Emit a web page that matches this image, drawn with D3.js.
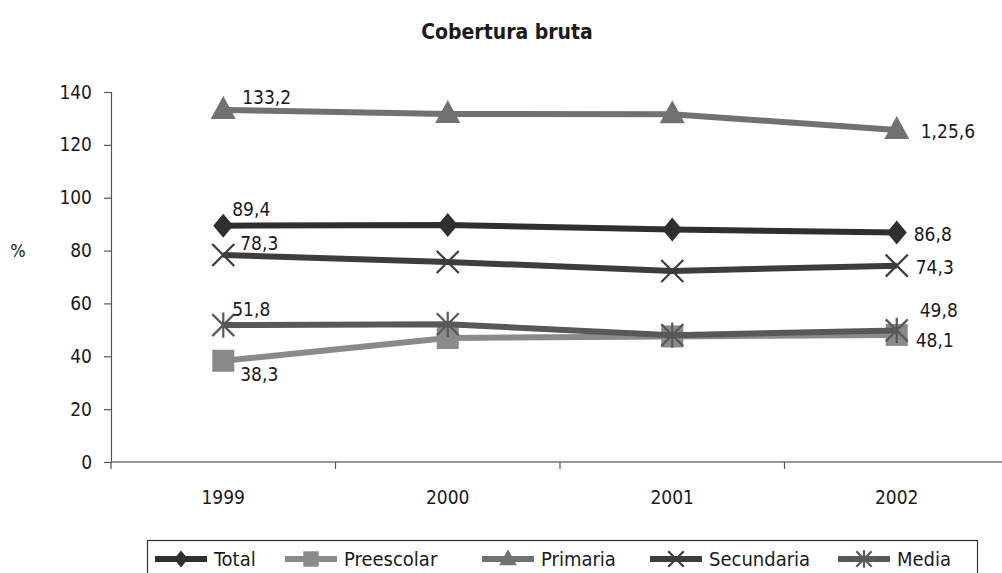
<!DOCTYPE html>
<html>
<head>
<meta charset="utf-8">
<script src="https://cdn.jsdelivr.net/npm/d3@7"></script>
<style>
  body { margin: 0; background: #fff; }
  svg { display: block; font-family: "Liberation Sans Narrow", "DejaVu Sans Condensed", "Roboto Condensed", sans-serif; }
</style>
</head>
<body>
<svg id="chart" width="1002" height="573"></svg>
<script>
// Data
const years = ["1999", "2000", "2001", "2002"];
const yTicks = [0, 20, 40, 60, 80, 100, 120, 140];
const seriesNames = ["Total", "Preescolar", "Primaria", "Secundaria", "Media"];
const total = [89.4, 89.7, 88.0, 86.8];
const preescolar = [38.3, 46.9, 47.5, 48.1];
const primaria = [133.2, 131.7, 131.6, 125.6];
const secundaria = [78.3, 75.7, 72.3, 74.3];
const media = [51.8, 52.1, 48.0, 49.8];
// printed labels (first and last year)
const labelsFirst = ["89,4", "38,3", "133,2", "78,3", "51,8"];
const labelsLast = ["86,8", "48,1", "1,25,6", "74,3", "49,8"];

const svg = d3.select("#chart");
const plotLeft = 111, plotRight = 1009, plotTop = 92, plotBottom = 462;

const x = d3.scaleBand().domain(years).range([plotLeft, plotRight]);
const y = d3.scaleLinear().domain([0, 140]).range([plotBottom, plotTop]);
const cx = d => x(d) + x.bandwidth() / 2;

// Styles per series (drawing order Total..Media)
const styles = [
  { color: "#2f2f2f", marker: "diamond" },
  { color: "#8a8a8a", marker: "square" },
  { color: "#717171", marker: "triangle" },
  { color: "#3d3d3d", marker: "x" },
  { color: "#585858", marker: "star" }
];
const values = [total, preescolar, primaria, secundaria, media];

// label offsets relative to marker (first year, last year)
const firstOff = [[9, -10], [17, 20], [19, -6], [17, -5], [9, -9]];
const lastOff = [[17, 8], [19, 12], [24, 8], [19, 8], [23, -13]];

// Title
svg.append("text")
  .attr("x", 507).attr("y", 39)
  .attr("text-anchor", "middle")
  .attr("font-size", 21).attr("font-weight", "bold")
  .attr("fill", "#1a1a1a")
  .text("Cobertura bruta");

// Y axis
const yAxis = svg.append("g")
  .attr("transform", `translate(${plotLeft},0)`)
  .call(d3.axisLeft(y).tickValues(yTicks).tickSize(7).tickPadding(12).tickFormat(d3.format("d")));
yAxis.select(".domain").attr("stroke", "#555").attr("stroke-width", 1.2);
yAxis.selectAll(".tick line").attr("stroke", "#555").attr("stroke-width", 1.2);
yAxis.selectAll("text").attr("font-size", 19).attr("fill", "#1a1a1a");
yAxis.attr("font-family", null);

svg.append("text")
  .attr("x", 18).attr("y", 257)
  .attr("text-anchor", "middle")
  .attr("font-size", 18).attr("fill", "#1a1a1a")
  .text("%");

// X axis
const xg = svg.append("g");
xg.append("line")
  .attr("x1", plotLeft).attr("x2", plotRight)
  .attr("y1", plotBottom).attr("y2", plotBottom)
  .attr("stroke", "#777").attr("stroke-width", 1.5);
xg.selectAll("line.tk")
  .data(years)
  .join("line")
  .attr("class", "tk")
  .attr("x1", d => x(d)).attr("x2", d => x(d))
  .attr("y1", plotBottom).attr("y2", plotBottom + 7)
  .attr("stroke", "#555").attr("stroke-width", 1.2);
xg.selectAll("text")
  .data(years)
  .join("text")
  .attr("x", cx).attr("y", 504)
  .attr("text-anchor", "middle")
  .attr("font-size", 19).attr("fill", "#1a1a1a")
  .text(d => d);

// Marker drawing
function drawMarker(g, type, color, px, py, scale = 1) {
  const s = scale;
  if (type === "diamond") {
    g.append("path")
      .attr("d", `M${px},${py - 12 * s} L${px + 10 * s},${py} L${px},${py + 12 * s} L${px - 10 * s},${py} Z`)
      .attr("fill", color);
  } else if (type === "square") {
    g.append("rect")
      .attr("x", px - 11 * s).attr("y", py - 11 * s)
      .attr("width", 22 * s).attr("height", 22 * s)
      .attr("fill", color);
  } else if (type === "triangle") {
    g.append("path")
      .attr("d", `M${px},${py - 14 * s} L${px + 12.5 * s},${py + 9 * s} L${px - 12.5 * s},${py + 9 * s} Z`)
      .attr("fill", color);
  } else if (type === "x") {
    const r = 11 * s;
    g.append("path")
      .attr("d", `M${px - r},${py - r} L${px + r},${py + r} M${px - r},${py + r} L${px + r},${py - r}`)
      .attr("stroke", color).attr("stroke-width", 2.2).attr("fill", "none");
  } else if (type === "star") {
    const r = 11 * s;
    g.append("path")
      .attr("d", `M${px - r},${py - r} L${px + r},${py + r} M${px - r},${py + r} L${px + r},${py - r} M${px},${py - r * 1.15} L${px},${py + r * 1.15}`)
      .attr("stroke", color).attr("stroke-width", 2.2).attr("fill", "none");
  }
}

const line = d3.line().x((d, i) => cx(years[i])).y(d => y(d));
const plot = svg.append("g");

values.forEach((vals, si) => {
  const st = styles[si];
  const g = plot.append("g");
  g.append("path")
    .datum(vals)
    .attr("d", line)
    .attr("fill", "none")
    .attr("stroke", st.color)
    .attr("stroke-width", 6);
  vals.forEach((v, i) => drawMarker(g, st.marker, st.color, cx(years[i]), y(v)));
});

// Data labels
values.forEach((vals, si) => {
  const x0 = cx(years[0]), x1 = cx(years[years.length - 1]);
  const y0 = y(vals[0]), y1 = y(vals[vals.length - 1]);
  svg.append("text")
    .attr("x", x0 + firstOff[si][0]).attr("y", y0 + firstOff[si][1])
    .attr("font-size", 19).attr("fill", "#1a1a1a")
    .text(labelsFirst[si]);
  svg.append("text")
    .attr("x", x1 + lastOff[si][0]).attr("y", y1 + lastOff[si][1])
    .attr("font-size", 19).attr("fill", "#1a1a1a")
    .text(labelsLast[si]);
});

// Legend
const legend = svg.append("g");
legend.append("rect")
  .attr("x", 147.5).attr("y", 540.5)
  .attr("width", 830).attr("height", 50)
  .attr("fill", "#fff").attr("stroke", "#333").attr("stroke-width", 1.2);

const legendX = [155, 285, 482, 650, 838];
const legendY = 559;
seriesNames.forEach((name, i) => {
  const st = styles[i];
  const g = legend.append("g");
  g.append("line")
    .attr("x1", legendX[i]).attr("x2", legendX[i] + 52)
    .attr("y1", legendY).attr("y2", legendY)
    .attr("stroke", st.color).attr("stroke-width", 6);
  drawMarker(g, st.marker, st.color, legendX[i] + 26, legendY, 0.7);
  g.append("text")
    .attr("x", legendX[i] + 59).attr("y", legendY + 7)
    .attr("font-size", 20).attr("fill", "#1a1a1a")
    .text(name);
});
</script>
</body>
</html>
